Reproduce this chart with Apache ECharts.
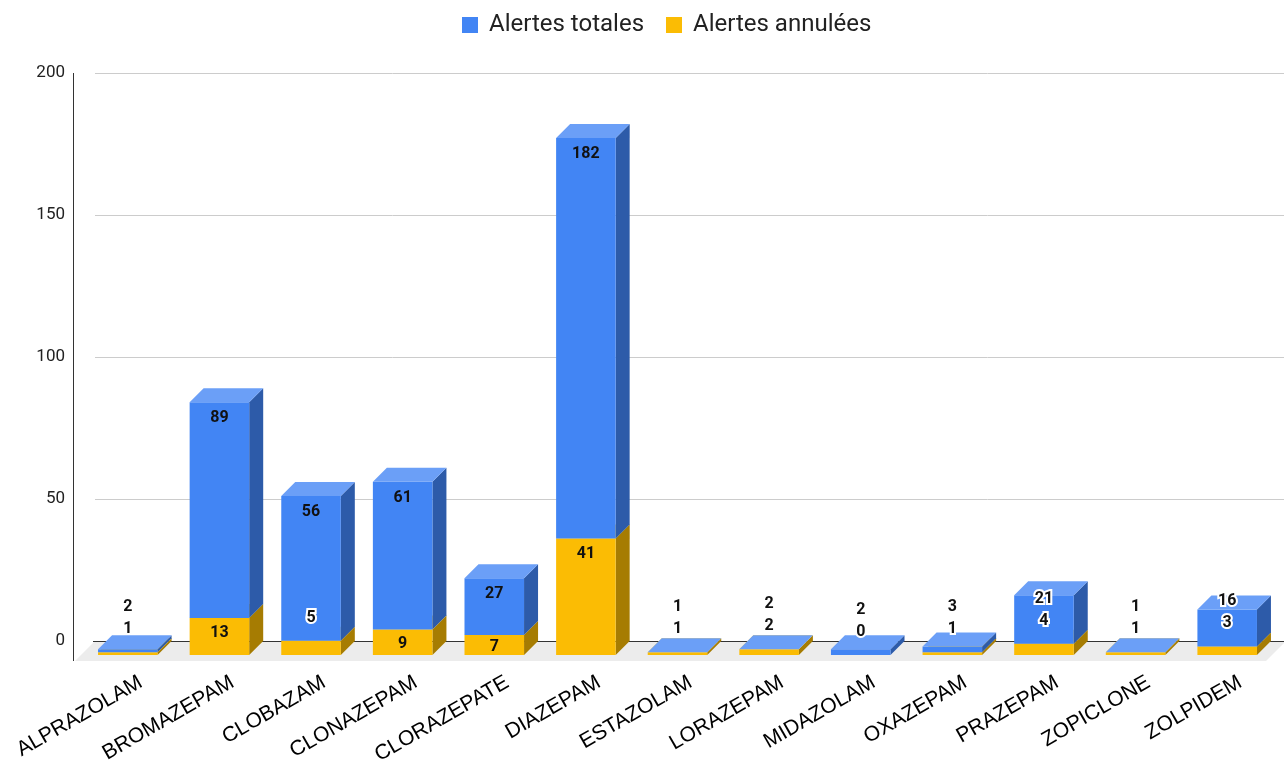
<!DOCTYPE html>
<html>
<head>
<meta charset="utf-8">
<script src="https://cdn.jsdelivr.net/npm/echarts@6/dist/echarts.min.js"></script>
<style>
html,body{margin:0;padding:0;background:#fff;overflow:hidden;}
#chart{width:1284px;height:760px;}
</style>
</head>
<body>
<div id="chart"></div>
<script>
const categories = ['ALPRAZOLAM','BROMAZEPAM','CLOBAZAM','CLONAZEPAM','CLORAZEPATE','DIAZEPAM','ESTAZOLAM','LORAZEPAM','MIDAZOLAM','OXAZEPAM','PRAZEPAM','ZOPICLONE','ZOLPIDEM'];
const totales = [2, 89, 56, 61, 27, 182, 1, 2, 2, 3, 21, 1, 16];
const annulees = [1, 13, 5, 9, 7, 41, 1, 2, 0, 1, 4, 1, 3];
const yTicks = [0, 50, 100, 150, 200];

const FONT = 'Roboto, "Liberation Sans", Arial, sans-serif';
const FONT_ARIAL = '"Liberation Sans", Arial, sans-serif';
const D = 14;          // 3D depth (px)
const BLUE = {front:'#4285F4', top:'#6B9FF7', side:'#2D5BA9'};
const YELLOW = {front:'#FBBC04', top:'#FCCB3A', side:'#A67C02'};

function box(x0, x1, yb, yt, cols){
  return [
    {type:'polygon', shape:{points:[[x1,yb],[x1+D,yb-D],[x1+D,yt-D],[x1,yt]]}, style:{fill:cols.side}},
    {type:'rect', shape:{x:x0, y:yt, width:x1-x0, height:yb-yt}, style:{fill:cols.front}},
    {type:'polygon', shape:{points:[[x0,yt],[x0+D,yt-D],[x1+D,yt-D],[x1,yt]]}, style:{fill:cols.top}}
  ];
}

function geom(api, i, v){
  const c = api.coord([i, v]);
  const band = api.size([1, 0])[0];
  const fw = band * 0.65;
  const cx = c[0] - 13;
  return {x0: cx - fw/2, x1: cx + fw/2, cx: cx, y: c[1] + D};
}

function label(x, y, txt, halo){
  return {
    type:'text', z2: 100,
    style:{
      x:x, y:y + 2, text:String(txt), fill:'#111',
      font:'bold 16px ' + FONT, align:'center', verticalAlign:'middle',
      stroke: halo ? '#fff' : null, lineWidth: halo ? 4 : 0
    }
  };
}

const yellowData = categories.map((c, i) => [i, annulees[i], totales[i]]);
const blueData = categories.map((c, i) => [i, totales[i], annulees[i]]);

const option = {
  backgroundColor: '#fff',
  animation: false,
  legend: {
    data: ['Alertes totales', 'Alertes annulées'],
    left: 457, top: 8,
    icon: 'rect', itemWidth: 16, itemHeight: 16, itemGap: 22,
    textStyle: {fontFamily: FONT, fontSize: 24, color: '#222', padding: [0,0,0,6]}
  },
  grid: {left: 95, right: -2, top: 73, height: 568, containLabel: false, outerBoundsMode: 'none'},
  xAxis: {
    type: 'category', data: categories,
    axisLine: {show: false}, axisTick: {show: false},
    axisLabel: {interval: 0, rotate: 30, margin: 40, fontFamily: FONT_ARIAL, fontSize: 21, color: '#000'}
  },
  yAxis: {
    type: 'value', min: yTicks[0], max: yTicks[yTicks.length-1], interval: 50,
    axisLine: {show: false}, axisTick: {show: false},
    axisLabel: {margin: 30, fontFamily: FONT, fontSize: 17, color: '#222'},
    splitLine: {lineStyle: {color: '#cccccc', width: 1}}
  },
  series: [
    {
      name: 'floor', type: 'custom', z: 1, silent: true,
      data: [[0, 0]],
      encode: {x: 0, y: 1},
      renderItem: function(params, api){
        const cs = params.coordSys;
        const y0 = api.coord([0, 0])[1];
        const yTop = api.coord([0, yTicks[yTicks.length-1]])[1];
        const xl = cs.x, xr = cs.x + cs.width;
        const ax = cs.x - 22;
        return {type:'group', children:[
          {type:'polygon', shape:{points:[[xl,y0],[xr,y0],[xr-20,y0+20],[xl-20,y0+20]]}, style:{fill:'#ececec'}},
          {type:'line', shape:{x1:xl-2, y1:y0+0.5, x2:xr, y2:y0+0.5}, style:{stroke:'#333', lineWidth:1}},
          {type:'line', shape:{x1:ax+0.5, y1:yTop, x2:ax+0.5, y2:y0+20}, style:{stroke:'#333', lineWidth:1}}
        ]};
      }
    },
    {
      name: 'Alertes annulées', type: 'custom', z: 2,
      itemStyle: {color: YELLOW.front},
      data: yellowData,
      encode: {x: 0, y: 1},
      renderItem: function(params, api){
        const i = api.value(0), a = api.value(1);
        if (!(a > 0)) return {type:'group', children:[]};
        const g0 = geom(api, i, 0), ga = geom(api, i, a);
        return {type:'group', children: box(g0.x0, g0.x1, g0.y, ga.y, YELLOW)};
      }
    },
    {
      name: 'Alertes totales', type: 'custom', z: 3,
      itemStyle: {color: BLUE.front},
      data: blueData,
      encode: {x: 0, y: 1},
      renderItem: function(params, api){
        const i = api.value(0), t = api.value(1), a = api.value(2);
        const g0 = geom(api, i, 0), ga = geom(api, i, a), gt = geom(api, i, t);
        const children = box(ga.x0, ga.x1, ga.y, gt.y, BLUE);
        const hA = g0.y - ga.y;
        let yl, haloA = false;
        if (hA >= 18) yl = Math.min(ga.y + 13, (ga.y + g0.y) / 2);
        else { yl = ga.y - 25; haloA = true; }
        let bl = gt.y + 14, haloB = false;
        if (bl > yl - 22) { bl = yl - 22; haloB = true; }
        children.push(label(g0.cx, yl, a, haloA));
        children.push(label(g0.cx, bl, t, haloB));
        return {type:'group', children: children};
      }
    }
  ]
};

const chart = echarts.init(document.getElementById('chart'), null, {renderer: 'canvas'});
chart.setOption(option);
</script>
</body>
</html>
